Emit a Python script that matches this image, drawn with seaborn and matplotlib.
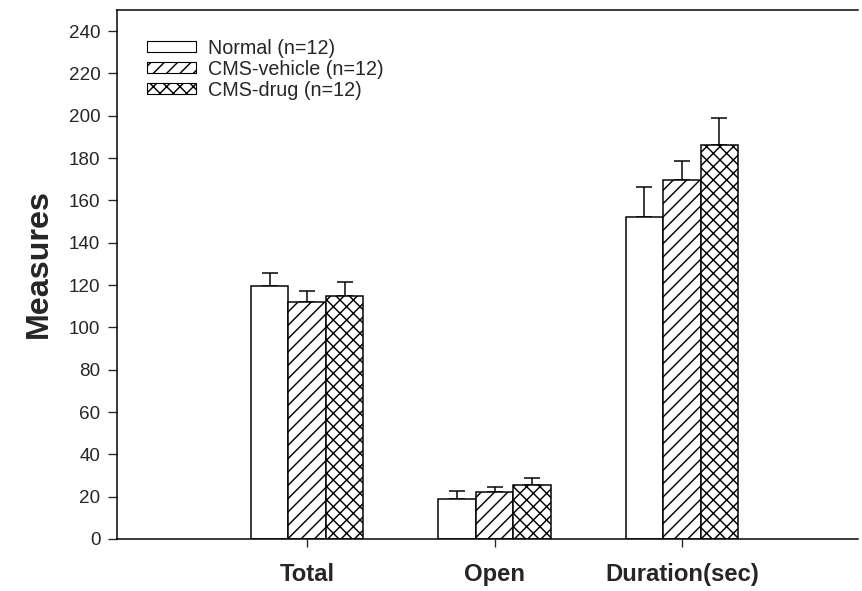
import pandas as pd
import matplotlib.pyplot as plt
import seaborn as sns
from matplotlib.patches import Patch

# Data
measures = ["Total", "Open", "Duration(sec)"]
groups = ["Normal (n=12)", "CMS-vehicle (n=12)", "CMS-drug (n=12)"]
normal = [119.7, 18.8, 152.4]
vehicle = [112.1, 22.4, 169.8]
drug = [114.7, 25.6, 186.1]
err_normal = [6.0, 4.0, 14.0]
err_vehicle = [5.2, 2.4, 8.7]
err_drug = [6.6, 3.2, 13.0]
yticks = list(range(0, 241, 20))
hatches = ["", "//", "xx"]

df = pd.DataFrame({
    "measure": measures * 3,
    "group": [g for g in groups for _ in measures],
    "value": normal + vehicle + drug,
})
errors = [err_normal, err_vehicle, err_drug]

sns.set_style("ticks")
plt.rcParams["font.family"] = ["Liberation Sans", "DejaVu Sans"]
plt.rcParams["hatch.linewidth"] = 1.3

DPI = 80
fig = plt.figure(figsize=(862 / DPI, 591 / DPI), dpi=DPI)
ax = fig.add_axes([0.1357, 0.088, 0.8597, 0.8951])

sns.barplot(data=df, x="measure", y="value", hue="group", order=measures,
            hue_order=groups, palette=["white"] * 3, saturation=1,
            edgecolor="black", linewidth=1.35, width=0.6, errorbar=None,
            legend=False, ax=ax)

# hatches + upper error bars
for container, h, errs in zip(ax.containers, hatches, errors):
    for bar, e in zip(container, errs):
        bar.set_hatch(h)
        x = bar.get_x() + bar.get_width() / 2
        ax.errorbar(x, bar.get_height(), yerr=[[0], [e]], fmt="none",
                    ecolor="black", elinewidth=1.35, capsize=7, capthick=1.35,
                    zorder=0.5)

ax.set_ylim(0, 250)
ax.set_yticks(yticks)
ax.set_xlim(-1.015, 2.94)
ax.set_xlabel("")
ax.set_ylabel("Measures", fontsize=29, fontweight="bold", labelpad=13, y=0.52)

ax.tick_params(axis="y", length=8, width=1.2, pad=7, labelsize=17)
ax.tick_params(axis="x", length=7, width=1.2, pad=15, labelsize=21.5)
plt.setp(ax.get_xticklabels(), fontweight="bold")

for side in ["left", "top", "bottom"]:
    ax.spines[side].set_linewidth(1.35)
    ax.spines[side].set_color("black")
ax.spines["right"].set_visible(False)

handles = [Patch(facecolor="white", edgecolor="black", hatch=h, linewidth=1.0, label=g)
           for g, h in zip(groups, hatches)]
ax.legend(handles=handles, loc="upper left", bbox_to_anchor=(0.040, 0.9455),
          frameon=False, fontsize=17.8, handlelength=2.5, handleheight=0.5,
          handletextpad=0.6, labelspacing=0.1, borderpad=0, borderaxespad=0)

plt.savefig("out.png", dpi=DPI)
